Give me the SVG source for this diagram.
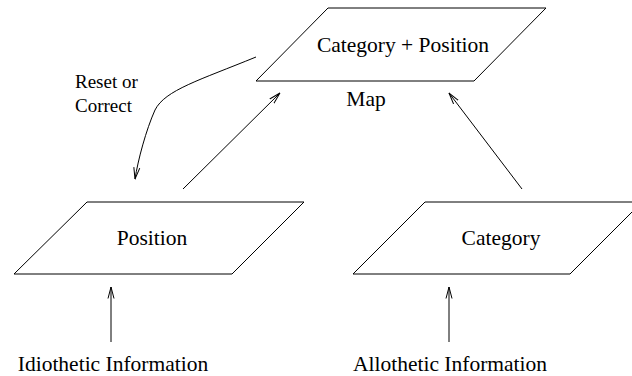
<svg xmlns="http://www.w3.org/2000/svg" width="632" height="376" viewBox="0 0 632 376">
<style>
.shape{fill:none;stroke:#000;stroke-width:1}
.conn{fill:none;stroke:#000;stroke-width:1}
.c{text-anchor:middle}
</style>
<defs>
<marker id="ah" viewBox="0 0 12 8" refX="11.5" refY="4" markerWidth="12" markerHeight="8" markerUnits="userSpaceOnUse" orient="auto">
<path d="M0,1 L11.5,4 L0,7" fill="none" stroke="#000" stroke-width="1"/>
</marker>
</defs>
<g font-family="Liberation Serif, Times New Roman, Times, serif" font-size="21.5" fill="#000">
<g id="map">
<polygon class="shape" points="328,8 546,8 474,81 256,81"/>
<text class="c" x="403" y="52">Category + Position</text>
<text class="c" x="366" y="106">Map</text>
</g>
<g id="position">
<polygon class="shape" points="87,202 304,202 232,274 14,274"/>
<text class="c" x="152" y="245">Position</text>
</g>
<g id="category">
<polygon class="shape" points="425,202 642,202 570,274 353,274"/>
<text class="c" x="501" y="245">Category</text>
</g>
<g id="idiothetic">
<text class="c" x="113" y="371">Idiothetic Information</text>
</g>
<g id="allothetic">
<text class="c" x="450" y="371">Allothetic Information</text>
</g>
<g id="reset-label" font-size="19">
<text x="75" y="88">Reset or</text>
<text x="75" y="112">Correct</text>
</g>
</g>
<g id="connectors">
<path class="conn" d="M256,57 C200,80 165,90 155,110 C146,130 138,160 135,179" marker-end="url(#ah)"/>
<line class="conn" x1="183" y1="189" x2="280" y2="93" marker-end="url(#ah)"/>
<line class="conn" x1="522" y1="189" x2="449" y2="93" marker-end="url(#ah)"/>
<line class="conn" x1="111" y1="342" x2="111" y2="287" marker-end="url(#ah)"/>
<line class="conn" x1="449" y1="342" x2="449" y2="287" marker-end="url(#ah)"/>
</g>
</svg>
